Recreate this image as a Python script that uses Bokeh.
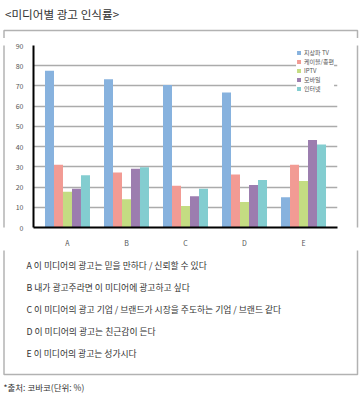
from bokeh.plotting import figure
from bokeh.layouts import column, row
from bokeh.models import ColumnDataSource, FactorRange, Label, BoxAnnotation, FixedTicker
from bokeh.transform import dodge
from bokeh.embed import file_html
from bokeh.resources import INLINE

# ---- data ----
categories = ["A", "B", "C", "D", "E"]
series_names = ["지상파 TV", "케이블/종편", "IPTV", "모바일", "인터넷"]
terrestrial = [77.5, 73.3, 70.5, 66.7, 14.9]
cable = [31.0, 27.2, 20.6, 26.2, 31.0]
iptv = [17.7, 14.0, 10.6, 12.6, 23.0]
mobile = [19.2, 29.1, 15.4, 21.0, 43.3]
internet = [25.8, 29.8, 19.2, 23.5, 41.0]
y_ticks = [0, 10, 20, 30, 40, 50, 60, 70, 80, 90]
title_text = "<미디어별 광고 인식률>"
descriptions = [
    "A 이 미디어의 광고는 믿을 만하다 / 신뢰할 수 있다",
    "B 내가 광고주라면 이 미디어에 광고하고 싶다",
    "C 이 미디어의 광고 기업 / 브랜드가 시장을 주도하는 기업 / 브랜드 같다",
    "D 이 미디어의 광고는 친근감이 든다",
    "E 이 미디어의 광고는 성가시다",
]
footnote = "*출처: 코바코(단위: %)"

colors = ["#87b2de", "#f29b94", "#c4dc82", "#9c7daf", "#83cdd0"]
FONT = "Noto Sans CJK KR"
TXT = "#333333"

# ---- page layout (pixels) ----
W, H = 360, 398
TOP_H = 38          # title strip
MID_H = 212         # chart strip (38..250)
BOT_H = H - TOP_H - MID_H
L_W, R_W = 10, 20
C_W = W - L_W - R_W
BOX_L, BOX_R, BOX_T, BOX_B = 3.5, 357, 30, 374


def blank(w, h):
    f = figure(width=w, height=h, output_backend="svg", toolbar_location=None,
               x_range=(0, 1), y_range=(0, 1), x_axis_location=None, y_axis_location=None,
               min_border=0)
    f.grid.visible = False
    f.outline_line_color = None
    f.border_fill_color = "white"
    f.background_fill_color = "white"
    return f


def frame_box(f, left, right, top, bottom):
    f.add_layout(BoxAnnotation(left=left, right=right, top=top, bottom=bottom,
                               left_units="canvas", right_units="canvas",
                               top_units="canvas", bottom_units="canvas",
                               fill_color=None, fill_alpha=0, line_color="black", line_width=1.5))


# title strip
f_top = blank(W, TOP_H)
f_top.add_layout(Label(x=4.5, y=13.5, x_units="canvas", y_units="canvas", text=title_text,
                       text_font=FONT, text_font_size="11.6px", text_color=TXT, text_baseline="middle"))
frame_box(f_top, BOX_L, BOX_R, BOX_T, 1000)

# side strips
f_left = blank(L_W, MID_H)
frame_box(f_left, BOX_L, 1000, -1000, 1000)
f_right = blank(R_W, MID_H)
frame_box(f_right, -1000, BOX_R - (L_W + C_W), -1000, 1000)

# chart
src = ColumnDataSource(dict(cat=categories, s0=terrestrial, s1=cable, s2=iptv, s3=mobile, s4=internet))
PAD = 0.076
p = figure(width=C_W, height=MID_H, output_backend="svg", toolbar_location=None,
           x_range=FactorRange(factors=categories, range_padding=PAD, range_padding_units="absolute"),
           y_range=(0, 90),
           min_border_left=23, min_border_top=7, min_border_right=3, min_border_bottom=16)
p.outline_line_color = None
p.background_fill_color = "white"
p.border_fill_color = "white"

bw = 0.1525
for i, (col, name) in enumerate(zip(["s0", "s1", "s2", "s3", "s4"], series_names)):
    p.vbar(x=dodge("cat", (i - 2) * bw, range=p.x_range), top=col, width=bw, bottom=0,
           source=src, fill_color=colors[i], line_color=None, legend_label=name)

p.yaxis.ticker = FixedTicker(ticks=y_ticks)
for ax in (p.xaxis[0], p.yaxis[0]):
    ax.axis_line_color = "black"
    ax.axis_line_width = 2
    ax.major_tick_line_color = None
    ax.minor_tick_line_color = None
    ax.major_label_text_font = FONT
    ax.major_label_text_font_size = "7px"
    ax.major_label_text_color = "#555555"
p.yaxis.major_label_standoff = 4
p.xaxis.major_label_standoff = 4
p.xgrid.grid_line_color = None
p.ygrid.grid_line_color = "#ababab"
p.ygrid.grid_line_width = 1.3

lg = p.legend[0]
lg.location = "top_right"
lg.margin = 3
lg.padding = 1
lg.spacing = 0
lg.label_height = 8
lg.glyph_height = 5
lg.glyph_width = 5
lg.label_standoff = 3
lg.label_text_font = FONT
lg.label_text_font_size = "6px"
lg.label_text_color = "#555555"
lg.border_line_color = None
lg.background_fill_color = "white"
lg.background_fill_alpha = 1.0

# description + footnote strip
f_bot = blank(W, BOT_H)
y0 = TOP_H + MID_H
for k, d in enumerate(descriptions):
    f_bot.add_layout(Label(x=26, y=265 + k * 22 - y0, x_units="canvas", y_units="canvas", text=d,
                           text_font=FONT, text_font_size="8.8px", text_color=TXT, text_baseline="middle"))
f_bot.add_layout(Label(x=3, y=386 - y0, x_units="canvas", y_units="canvas", text=footnote,
                       text_font=FONT, text_font_size="8.5px", text_color=TXT, text_baseline="middle"))
frame_box(f_bot, BOX_L, BOX_R, -1000, BOX_B - y0)

layout = column(f_top, row(f_left, p, f_right, spacing=0), f_bot, spacing=0)
open("out.html", "w").write(file_html(layout, INLINE))
